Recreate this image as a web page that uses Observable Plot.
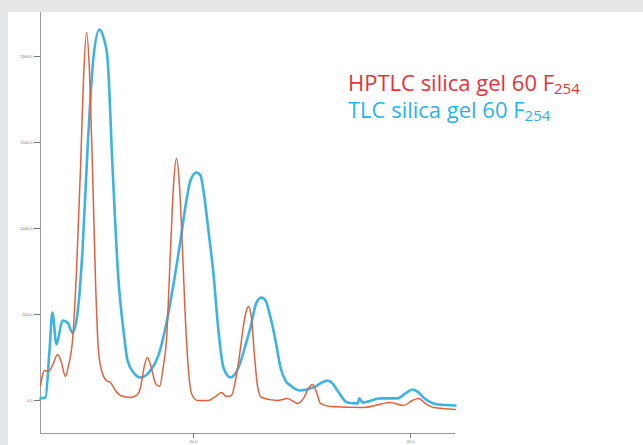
<!DOCTYPE html>
<html>
<head>
<meta charset="utf-8">
<script src="https://cdn.jsdelivr.net/npm/d3@7"></script>
<script src="https://cdn.jsdelivr.net/npm/@observablehq/plot@0.6"></script>
<style>
  html, body { margin: 0; padding: 0; background: #e6e7e9; width: 643px; height: 445px; overflow: hidden; }
  #panel { position: absolute; left: 8px; top: 12px; width: 635px; height: 433px; background: #ffffff; }
  #legend { position: absolute; left: 340px; top: 57px; font-family: "Open Sans", "Noto Sans", sans-serif; font-size: 22px; line-height: 27px; }
  #legend sub { font-size: 15px; vertical-align: -3px; line-height: 0; }
  .hp { color: #e8313b; }
  .tl { color: #27b4e8; }
</style>
</head>
<body>
<div id="panel">
  <div id="chart"></div>
  <div id="legend">
    <div class="hp">HPTLC silica gel 60 F<sub>254</sub></div>
    <div class="tl">TLC silica gel 60 F<sub>254</sub></div>
  </div>
</div>
<script>
// HPTLC (red) densitogram
const hptlcX = [5.90,6.08,6.27,6.64,7.00,7.47,7.83,8.20,8.48,8.85,9.22,9.59,9.86,10.14,10.41,10.69,10.97,11.24,11.61,11.98,12.35,12.81,13.27,14.19,14.75,15.12,15.48,15.76,16.13,16.50,16.87,17.23,17.51,17.88,18.16,18.43,18.71,18.99,19.26,19.54,19.82,20.37,21.38,22.03,22.58,23.04,23.50,23.87,24.24,24.61,24.88,25.07,25.35,25.62,25.90,26.27,27.74,28.66,29.59,30.14,30.60,30.97,31.34,31.71,32.63,35.67,38.16,39.35,40.18,40.74,41.38,42.12,44.15];
const hptlcY = [87,145,174,169,203,267,221,140,203,349,756,1355,1860,2140,1919,1355,698,291,157,116,105,58,29,17,29,76,203,250,186,99,81,203,349,872,1250,1407,1250,872,465,174,41,0,0,23,47,23,29,116,262,436,523,547,477,262,87,17,0,12,-17,12,70,93,47,-17,-35,-41,-12,-29,0,12,-17,-41,-52];
// TLC (blue) densitogram
const tlcX = [5.90,6.36,6.73,7.00,7.37,7.93,8.39,8.85,9.31,9.77,10.23,10.78,11.34,11.71,12.07,12.54,13.09,13.55,13.92,14.47,15.12,16.04,16.77,17.42,18.06,18.80,19.35,19.72,20.28,20.65,20.92,21.38,21.84,22.30,22.76,23.41,24.15,24.79,25.25,25.81,26.27,26.64,27.10,27.56,28.02,28.48,28.94,29.86,31.06,31.71,32.35,32.81,33.27,34.19,35.12,35.30,35.58,37.24,38.80,39.54,40.18,40.74,41.20,42.49,44.15];
const tlcY = [12,17,291,512,326,465,453,395,506,872,1454,1994,2157,2110,1994,1355,698,407,233,163,134,174,262,424,640,930,1163,1279,1326,1308,1221,988,738,407,192,134,192,320,424,570,599,581,483,349,192,116,87,58,76,99,116,99,58,-12,-17,12,-12,12,12,41,64,47,17,-23,-29];

const yTicks = [0, 500, 1000, 1500, 2000];
const xTicks = [20, 40];
const xDomain = [5.9, 44.15];
const yDomain = [-192, 2256];

const hptlc = hptlcX.map((x, i) => ({x, y: hptlcY[i]}));
const tlc = tlcX.map((x, i) => ({x, y: tlcY[i]}));
const fmt = d => d.toFixed(1).replace(".", ",");

const chart = Plot.plot({
  width: 635,
  height: 433,
  marginLeft: 32,
  marginRight: 188,
  marginTop: 0,
  marginBottom: 12,
  x: {domain: xDomain},
  y: {domain: yDomain},
  style: {background: "transparent", fontFamily: "Liberation Sans, sans-serif", color: "#777777", overflow: "visible"},
  marks: [
    Plot.ruleX([xDomain[0]], {stroke: "#9a9a9a", strokeWidth: 1}),
    Plot.ruleY([yDomain[0]], {stroke: "#9a9a9a", strokeWidth: 1}),
    Plot.axisY(yTicks, {tickFormat: fmt, tickSize: 6, tickPadding: 2, fontSize: 4, stroke: "#777777", label: null}),
    Plot.axisX(xTicks, {tickFormat: fmt, tickSize: 5, tickPadding: 2, fontSize: 4, stroke: "#777777", label: null}),
    Plot.line(tlc, {x: "x", y: "y", stroke: "#3db3e4", strokeWidth: 2.6, curve: "monotone-x"}),
    Plot.line(hptlc, {x: "x", y: "y", stroke: "#e2603c", strokeWidth: 1.5, curve: "monotone-x"})
  ]
});
document.getElementById("chart").appendChild(chart);
</script>
</body>
</html>
